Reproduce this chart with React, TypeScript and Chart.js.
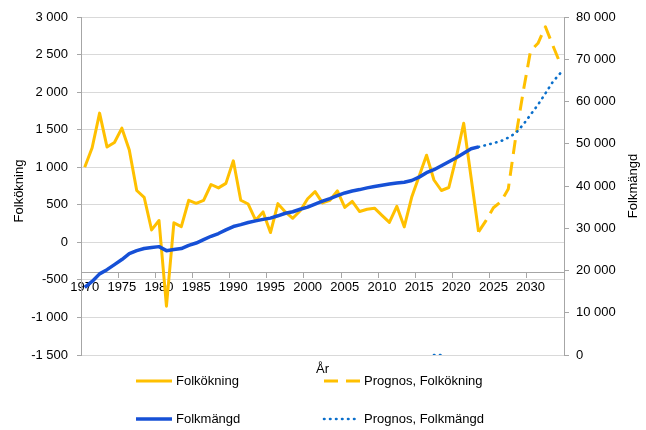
import React, { useEffect, useRef } from "react";
import { Chart, registerables } from "chart.js";

Chart.register(...registerables);

const years: string[] = [
  "1970", "1971", "1972", "1973", "1974", "1975", "1976", "1977", "1978", "1979",
  "1980", "1981", "1982", "1983", "1984", "1985", "1986", "1987", "1988", "1989",
  "1990", "1991", "1992", "1993", "1994", "1995", "1996", "1997", "1998", "1999",
  "2000", "2001", "2002", "2003", "2004", "2005", "2006", "2007", "2008", "2009",
  "2010", "2011", "2012", "2013", "2014", "2015", "2016", "2017", "2018", "2019",
  "2020", "2021", "2022", "2023", "2024", "2025", "2026", "2027", "2028", "2029",
  "2030", "2031", "2032", "2033", "2034",
];

// Folkökning 1970–2023
const folkokning: (number | null)[] = [
  1000, 1260, 1720, 1270, 1330, 1520, 1230, 690, 600, 165,
  290, -850, 260, 210, 560, 520, 560, 770, 725, 785,
  1085, 560, 510, 295, 405, 130, 515, 405, 320, 420,
  580, 675, 525, 560, 685, 465, 545, 410, 440, 455,
  360, 265, 480, 206, 600, 880, 1160, 830, 690, 730,
  1130, 1585, 860, 140,
  null, null, null, null, null, null, null, null, null, null, null,
];

// Prognos, Folkökning 2023–2034
const prognosFolkokning: (number | null)[] = [
  null, null, null, null, null, null, null, null, null, null,
  null, null, null, null, null, null, null, null, null, null,
  null, null, null, null, null, null, null, null, null, null,
  null, null, null, null, null, null, null, null, null, null,
  null, null, null, null, null, null, null, null, null, null,
  null, null, null, 140,
  290, 460, 540, 710, 1400, 2000, 2550, 2650, 2870, 2620, 2380,
];

// Folkmängd 1970–2023
const folkmangd: (number | null)[] = [
  16000, 17400, 19200, 20200, 21400, 22600, 24000, 24700, 25200, 25450,
  25650, 24700, 24950, 25200, 25950, 26500, 27300, 28100, 28750, 29600,
  30400, 30850, 31350, 31750, 32100, 32400, 32950, 33550, 33900, 34500,
  35000, 35700, 36400, 37000, 37700, 38350, 38800, 39150, 39550, 39900,
  40200, 40450, 40700, 40900, 41300, 42100, 43150, 43850, 44800, 45750,
  46700, 47750, 48800, 49250,
  null, null, null, null, null, null, null, null, null, null, null,
];

// Prognos, Folkmängd (incl. stray zero values 2017–2018 as in the source)
const prognosFolkmangd: (number | null)[] = [
  null, null, null, null, null, null, null, null, null, null,
  null, null, null, null, null, null, null, null, null, null,
  null, null, null, null, null, null, null, null, null, null,
  null, null, null, null, null, null, null, null, null, null,
  null, null, null, null, null, null, null, 0, 0, null,
  null, null, null, 49250,
  49670, 50140, 50610, 51440, 52500, 54510, 56880, 59240, 61920, 64680, 66690,
];

const ORANGE = "#FFC000";
const BLUE = "#1650D6";
const BLUE_DOT = "#0A6FCB";
const AXIS = "#A6A6A6";
const GRID = "#D9D9D9";
const FONT = '"Liberation Sans", Arial, sans-serif';

const fmt = (v: number) => {
  const neg = v < 0;
  const s = Math.abs(Math.round(v)).toString().replace(/\B(?=(\d{3})+(?!\d))/g, " ");
  return (neg ? "-" : "") + s;
};

const legendItems = [
  { label: "Folkökning", color: ORANGE, dash: [] as number[], width: 3, cap: "butt", col: 0, row: 0 },
  { label: "Prognos, Folkökning", color: ORANGE, dash: [14, 8], width: 3, cap: "butt", col: 1, row: 0 },
  { label: "Folkmängd", color: BLUE, dash: [] as number[], width: 3.5, cap: "butt", col: 0, row: 1 },
  { label: "Prognos, Folkmängd", color: BLUE_DOT, dash: [0.5, 5.5], width: 2.6, cap: "round", col: 1, row: 1 },
];

const overlayPlugin = {
  id: "overlay",
  afterDraw(chart: any) {
    const ctx: CanvasRenderingContext2D = chart.ctx;
    const area = chart.chartArea;
    ctx.save();
    ctx.font = `13px ${FONT}`;
    ctx.fillStyle = "#000";
    ctx.textBaseline = "middle";
    ctx.textAlign = "center";

    const midY = (area.top + area.bottom) / 2;
    // left title
    ctx.save();
    ctx.translate(19, midY + 5);
    ctx.rotate(-Math.PI / 2);
    ctx.fillText("Folkökning", 0, 0);
    ctx.restore();
    // right title
    ctx.save();
    ctx.translate(633, midY);
    ctx.rotate(-Math.PI / 2);
    ctx.fillText("Folkmängd", 0, 0);
    ctx.restore();
    // x title
    ctx.fillText("År", (area.left + area.right) / 2, area.bottom + 14);

    // legend
    const colX = [136, 324];
    const rowY = [381, 419];
    ctx.textAlign = "left";
    for (const it of legendItems) {
      const x0 = colX[it.col];
      const y = rowY[it.row];
      ctx.save();
      ctx.strokeStyle = it.color;
      ctx.lineWidth = it.width;
      ctx.lineCap = it.cap as CanvasLineCap;
      ctx.setLineDash(it.dash);
      ctx.beginPath();
      ctx.moveTo(x0, y);
      ctx.lineTo(x0 + 36, y);
      ctx.stroke();
      ctx.restore();
      ctx.fillText(it.label, x0 + 40, y);
    }
    ctx.restore();
  },
};

export default function App() {
  const ref = useRef<HTMLCanvasElement | null>(null);

  useEffect(() => {
    if (!ref.current) return;
    const chart = new Chart(ref.current, {
      type: "line",
      data: {
        labels: years,
        datasets: [
          {
            label: "Folkmängd",
            data: folkmangd,
            yAxisID: "y1",
            borderColor: BLUE,
            borderWidth: 3.5,
            pointRadius: 0,
            order: 1,
            borderJoinStyle: "round",
          },
          {
            label: "Prognos, Folkmängd",
            data: prognosFolkmangd,
            yAxisID: "y1",
            borderColor: BLUE_DOT,
            borderWidth: 2.6,
            borderDash: [0.5, 5.5],
            borderCapStyle: "round",
            pointRadius: 0,
            order: 2,
          },
          {
            label: "Folkökning",
            data: folkokning,
            yAxisID: "y",
            borderColor: ORANGE,
            borderWidth: 3,
            pointRadius: 0,
            order: 3,
            borderJoinStyle: "round",
          },
          {
            label: "Prognos, Folkökning",
            data: prognosFolkokning,
            yAxisID: "y",
            borderColor: ORANGE,
            borderWidth: 3,
            borderDash: [14, 8],
            pointRadius: 0,
            order: 4,
            borderJoinStyle: "round",
          },
        ],
      },
      options: {
        responsive: false,
        animation: false,
        devicePixelRatio: 1,
        layout: { padding: { left: 0, right: 0, top: 17, bottom: 75 } },
        plugins: {
          legend: { display: false },
          tooltip: { enabled: false },
        },
        elements: { line: { tension: 0 } },
        scales: {
          x: {
            type: "category",
            position: { y: -400 } as any,
            offset: true,
            grid: {
              display: true,
              drawOnChartArea: false,
              drawTicks: true,
              tickLength: 5,
              offset: true,
              color: (c: any) => (c.index % 5 === 0 ? AXIS : "rgba(0,0,0,0)"),
            },
            border: { display: true, color: AXIS, width: 1 },
            ticks: {
              autoSkip: false,
              maxRotation: 0,
              minRotation: 0,
              padding: 2,
              color: "#000",
              font: { family: FONT, size: 13 },
              callback: (_v: any, i: number) => (Number(years[i]) % 5 === 0 ? years[i] : ""),
            },
            afterFit: (s: any) => {
              s.paddingLeft = 0;
              s.paddingRight = 0;
              s.paddingTop = 0;
              s.paddingBottom = 0;
            },
          },
          y: {
            position: "left",
            min: -1500,
            max: 3000,
            grid: {
              color: GRID,
              tickColor: AXIS,
              tickLength: 4,
              drawTicks: true,
            },
            border: { display: true, color: AXIS, width: 1 },
            ticks: {
              stepSize: 500,
              padding: 9,
              color: "#000",
              font: { family: FONT, size: 13 },
              callback: (v: any) => fmt(Number(v)),
            },
            afterFit: (s: any) => {
              s.width = 81;
              s.paddingTop = 0;
              s.paddingBottom = 0;
            },
          },
          y1: {
            position: "right",
            min: 0,
            max: 80000,
            grid: {
              drawOnChartArea: false,
              color: AXIS,
              tickLength: 5,
              drawTicks: true,
            },
            border: { display: true, color: AXIS, width: 1 },
            ticks: {
              stepSize: 10000,
              padding: 7,
              color: "#000",
              font: { family: FONT, size: 13 },
              callback: (v: any) => fmt(Number(v)),
            },
            afterFit: (s: any) => {
              s.width = 82;
              s.paddingTop = 0;
              s.paddingBottom = 0;
            },
          },
        },
      },
      plugins: [overlayPlugin],
    } as any);
    return () => chart.destroy();
  }, []);

  return (
    <div style={{ position: "fixed", left: 0, top: 0, width: 646, height: 430, background: "#fff" }}>
      <canvas ref={ref} width={646} height={430} style={{ display: "block" }} />
    </div>
  );
}
